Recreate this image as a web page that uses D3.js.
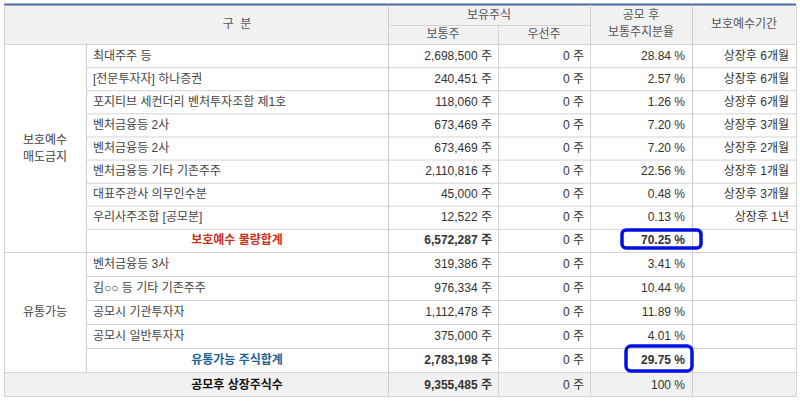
<!DOCTYPE html><html><head><meta charset="utf-8"><script src="https://cdn.jsdelivr.net/npm/d3@7"></script>
<style>body{margin:0;background:#fff}text{font-family:"Liberation Sans","Noto Sans CJK KR",sans-serif;font-size:12px}</style></head><body>
<svg id="c" width="800" height="401"></svg>
<script>
const names=["최대주주 등","[전문투자자] 하나증권","포지티브 세컨더리 벤처투자조합 제1호","벤처금융등 2사","벤처금융등 2사","벤처금융등 기타 기존주주","대표주관사 의무인수분","우리사주조합 [공모분]","보호예수 물량합계","벤처금융등 3사","김○○ 등 기타 기존주주","공모시 기관투자자","공모시 일반투자자","유통가능 주식합계"];
const common=["2,698,500","240,451","118,060","673,469","673,469","2,110,816","45,000","12,522","6,572,287","319,386","976,334","1,112,478","375,000","2,783,198"];
const pref=["0","0","0","0","0","0","0","0","0","0","0","0","0","0"];
const ratio=["28.84","2.57","1.26","7.20","7.20","22.56","0.48","0.13","70.25","3.41","10.44","11.89","4.01","29.75"];
const period=["상장후 6개월","상장후 6개월","상장후 6개월","상장후 3개월","상장후 2개월","상장후 1개월","상장후 3개월","상장후 1년","","","","","",""];
const groups=[{label:["보호예수","매도금지"],from:0,to:8},{label:["유통가능"],from:9,to:13}];
const totalRow={label:"공모후 상장주식수",common:"9,355,485",pref:"0",ratio:"100"};
const subtotals={8:"#c8321e",13:"#1a6496"};

const svg=d3.select("#c");
const y1=d3.scaleBand().domain(d3.range(9)).range([44,252]);
const y2=d3.scaleBand().domain(d3.range(9,14)).range([252,372]);
const yr=i=>i<9?y1(i):y2(i);const hr=i=>i<9?y1.bandwidth():y2.bandwidth();
const line="#d4d4d4";
svg.append("rect").attr("x",4).attr("y",5).attr("width",792).attr("height",39).attr("fill","#f1f1f1");
svg.append("rect").attr("x",4).attr("y",372).attr("width",792).attr("height",25).attr("fill","#f1f1f1");
svg.append("line").attr("x1",4).attr("x2",796).attr("y1",4.5).attr("y2",4.5).attr("stroke","#4c6a9e").attr("stroke-width",2);
const H=(x1,x2,y)=>svg.append("line").attr("x1",x1).attr("x2",x2).attr("y1",y+.5).attr("y2",y+.5).attr("stroke",line);
const V=(x,a,b,c)=>svg.append("line").attr("x1",x+.5).attr("x2",x+.5).attr("y1",a).attr("y2",b).attr("stroke",c||line);
H(388,590,25);H(4,796,44);
d3.range(14).forEach(i=>{const y=yr(i)+hr(i);H(i==8||i==13?4:86,796,y);});
H(4,796,396);
V(4,5,397);V(796,5,397);V(388,5,397,"#ccc");V(498,25,397);V(590,5,397);V(692,5,397,"#ccc");V(86,44,372,"#ccc");
const T=(x,y,s,a,o)=>{const t=svg.append("text").attr("x",x).attr("y",y).attr("text-anchor",a||"start").attr("dominant-baseline","central").attr("fill",(o&&o.c)||"#333").text(s);if(o&&o.b)t.attr("font-weight","bold");return t;};
const hc="#555";
T(237,24,"구  분","middle",{c:hc}).attr("xml:space","preserve");
T(489,15,"보유주식","middle",{c:hc});T(443,34,"보통주","middle",{c:hc});T(544,34,"우선주","middle",{c:hc});
T(641,15,"공모 후","middle",{c:hc});T(641,32,"보통주지분율","middle",{c:hc});T(744,24,"보호예수기간","middle",{c:hc});
groups.forEach(g=>{const top=yr(g.from),bot=yr(g.to)+hr(g.to),m=(top+bot)/2;g.label.forEach((l,k)=>T(45,m+(k-(g.label.length-1)/2)*17,l,"middle",{c:"#444"}));});
d3.range(14).forEach(i=>{const yc=yr(i)+hr(i)/2,sub=subtotals[i];
 if(sub)T(237,yc,names[i],"middle",{c:sub,b:1});else T(93,yc,names[i],"start",{c:"#444"});
 T(492,yc,common[i]+" 주","end",{b:sub?1:0});
 T(584,yc,pref[i]+" 주","end");
 T(685,yc,ratio[i]+" %","end",{b:sub?1:0});
 if(period[i])T(789,yc,period[i],"end");
});
T(237,385,totalRow.label,"middle",{c:"#111",b:1});T(492,385,totalRow.common+" 주","end",{b:1});T(584,385,totalRow.pref+" 주","end");T(685,385,totalRow.ratio+" %","end");
svg.append("rect").attr("x",622).attr("y",230).attr("width",79).attr("height",18).attr("rx",4).attr("fill","none").attr("stroke","#0010e0").attr("stroke-width",3.5);
svg.append("rect").attr("x",626).attr("y",346).attr("width",66).attr("height",25).attr("rx",5).attr("fill","none").attr("stroke","#0010e0").attr("stroke-width",3.5);
</script></body></html>
